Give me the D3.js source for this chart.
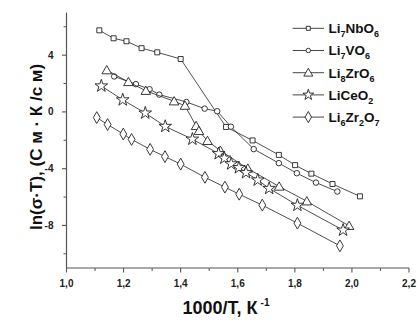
<!DOCTYPE html>
<html><head><meta charset="utf-8">
<script src="https://cdn.jsdelivr.net/npm/d3@7"></script>
<style>body{margin:0;background:#fff;}svg{display:block;font-family:"Liberation Sans",Arial,sans-serif;}</style>
</head><body>
<svg id="c" width="418" height="324"></svg>
<script>
const xTicks = [1.0,1.2,1.4,1.6,1.8,2.0,2.2];
const xTickLabels = ["1,0","1,2","1,4","1,6","1,8","2,0","2,2"];
const yTicks = [-8,-4,0,4];
const yTickLabels = ["-8","-4","0","4"];

const nbX = [1.115,1.165,1.210,1.263,1.318,1.400,1.559,1.652,1.744,1.801,1.858,1.932,2.028];
const nbY = [5.75,5.19,4.98,4.49,4.20,3.73,-1.06,-2.01,-3.03,-3.75,-4.35,-5.08,-5.95];
const vX = [1.167,1.243,1.291,1.325,1.420,1.484,1.528,1.576,1.656,1.744,1.807,1.874,1.949];
const vY = [2.50,1.96,1.60,1.22,0.70,0.23,0.05,-1.04,-2.62,-3.61,-4.32,-4.98,-5.61];
const zrX = [1.141,1.217,1.278,1.377,1.415,1.454,1.464,1.494,1.539,1.635,1.745,1.842,1.990];
const zrY = [2.94,2.11,1.49,0.75,0.44,-0.99,-1.34,-2.04,-2.73,-3.99,-5.26,-6.30,-8.03];
const ceX = [1.122,1.197,1.276,1.346,1.441,1.533,1.553,1.577,1.604,1.629,1.670,1.710,1.809,1.969];
const ceY = [1.83,0.85,-0.08,-1.02,-1.92,-2.94,-3.26,-3.66,-3.93,-4.28,-4.80,-5.39,-6.58,-8.33];
const z2X = [1.106,1.144,1.199,1.228,1.293,1.345,1.400,1.485,1.555,1.605,1.686,1.809,1.958];
const z2Y = [-0.40,-0.89,-1.56,-1.94,-2.64,-3.15,-3.68,-4.61,-5.30,-5.80,-6.57,-7.84,-9.44];

const seriesNames = [
  [["Li",""],["7","sub"],["NbO",""],["6","sub"]],
  [["Li",""],["7","sub"],["VO",""],["6","sub"]],
  [["Li",""],["8","sub"],["ZrO",""],["6","sub"]],
  [["LiCeO",""],["2","sub"]],
  [["Li",""],["6","sub"],["Zr",""],["2","sub"],["O",""],["7","sub"]]
];
const seriesSymbols = ["square","circle","triangle","star","diamond"];
const seriesXs = [nbX,vX,zrX,ceX,z2X];
const seriesYs = [nbY,vY,zrY,ceY,z2Y];

const svg = d3.select("#c");
const x = d3.scaleLinear().domain([1.0,2.2]).range([66.5,409]);
const y = d3.scaleLinear().domain([-11,7]).range([268,12.6]);
const axisColor = "#555";

const gx = svg.append("g").attr("transform","translate(0,"+y(-11)+")");
gx.append("line").attr("x1",x(1.0)).attr("x2",x(2.2)).attr("stroke",axisColor).attr("stroke-width",1.2);
d3.range(1.1,2.2,0.2).forEach(v=>{
  gx.append("line").attr("x1",x(v)).attr("x2",x(v)).attr("y1",0).attr("y2",3).attr("stroke",axisColor);
});
gx.selectAll(".mt").data(xTicks).join("line").attr("x1",d=>x(d)).attr("x2",d=>x(d)).attr("y1",0).attr("y2",4.5).attr("stroke",axisColor).attr("stroke-width",1.1);
gx.selectAll("text").data(xTicks).join("text").attr("x",d=>x(d)).attr("y",19)
  .attr("text-anchor","middle").attr("font-size",10).attr("font-weight","bold").attr("fill","#222")
  .text((d,i)=>xTickLabels[i]);

const gy = svg.append("g").attr("transform","translate("+x(1.0)+",0)");
gy.append("line").attr("y1",y(-11)).attr("y2",y(7)).attr("stroke",axisColor).attr("stroke-width",1.2);
[6,2,-2,-6,-10].forEach(v=>{
  gy.append("line").attr("y1",y(v)).attr("y2",y(v)).attr("x1",0).attr("x2",-3).attr("stroke",axisColor);
});
gy.selectAll(".mt").data(yTicks).join("line").attr("y1",d=>y(d)).attr("y2",d=>y(d)).attr("x1",0).attr("x2",-4.5).attr("stroke",axisColor).attr("stroke-width",1.1);
gy.selectAll("text").data(yTicks).join("text").attr("x",-13).attr("y",d=>y(d)+3.5)
  .attr("text-anchor","end").attr("font-size",10).attr("font-weight","bold").attr("fill","#222")
  .text((d,i)=>yTickLabels[i]);

const xt = svg.append("text").attr("x",226).attr("y",314).attr("text-anchor","middle")
  .attr("font-size",18).attr("font-weight","bold").attr("fill","#111");
xt.append("tspan").text("1000/T, К");
xt.append("tspan").attr("dy",-8).attr("dx",3).attr("font-size",10).text("-1");

svg.append("text").attr("transform","translate(42,147) rotate(-90)").attr("text-anchor","middle")
  .attr("font-size",17).attr("font-weight","bold").attr("fill","#111")
  .text("ln(σ·T), (С м · К /с м)");

function marker(g, type, cx, cy, s){
  if(type==="circle"){
    g.append("circle").attr("cx",cx).attr("cy",cy).attr("r",s*0.5);
  } else {
    const sym = {square:d3.symbolSquare,triangle:d3.symbolTriangle,star:d3.symbolStar,diamond:d3.symbolDiamond}[type];
    const area = {square:s*s, triangle:s*s*0.55, star:s*s*0.45, diamond:s*s*0.5}[type];
    let dy = type==="triangle" ? s*0.1 : 0;
    g.append("path").attr("d",d3.symbol().type(sym).size(area)()).attr("transform","translate("+cx+","+(cy+dy)+")");
  }
}
const sizes = {square:5,circle:5.5,triangle:8.5,star:10.5,diamond:9};

seriesXs.forEach((xs,i)=>{
  const pts = xs.map((v,j)=>[x(v),y(seriesYs[i][j])]);
  svg.append("path").attr("d",d3.line()(pts)).attr("fill","none").attr("stroke","#222").attr("stroke-width",0.8);
  const g = svg.append("g").attr("fill","#fff").attr("stroke","#222").attr("stroke-width",0.9);
  pts.forEach(p=>marker(g,seriesSymbols[i],p[0],p[1],sizes[seriesSymbols[i]]));
});

const legY0 = 28.3, legDy = 22.2;
seriesNames.forEach((nm,i)=>{
  const ly = legY0 + i*legDy;
  svg.append("line").attr("x1",292.7).attr("x2",324).attr("y1",ly).attr("y2",ly).attr("stroke","#333").attr("stroke-width",0.9);
  const g = svg.append("g").attr("fill","#fff").attr("stroke","#222").attr("stroke-width",0.9);
  const ls = {square:4,circle:4.5,triangle:8,star:9,diamond:8.5}[seriesSymbols[i]];
  marker(g,seriesSymbols[i],308.3,ly,ls);
  const t = svg.append("text").attr("x",328.5).attr("y",ly+4.8).attr("font-size",13.5).attr("font-weight","bold").attr("fill","#111");
  nm.forEach(part=>{
    if(part[1]==="sub"){
      t.append("tspan").attr("font-size",9).attr("dy",4).text(part[0]);
    } else {
      const ts = t.append("tspan").text(part[0]);
      ts.attr("dy", t.selectAll("tspan").size()>1 ? -4 : 0);
    }
  });
});
</script>
</body></html>
